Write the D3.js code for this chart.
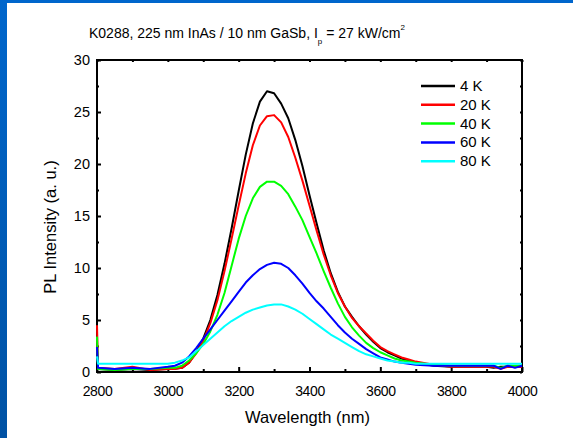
<!DOCTYPE html>
<html>
<head>
<meta charset="utf-8">
<script src="https://cdn.jsdelivr.net/npm/d3@7"></script>
<style>
  body { margin: 0; background: #fff; }
  svg text { font-family: Arial, "Liberation Sans", sans-serif; fill: #000; }
</style>
</head>
<body>
<svg id="chart"></svg>
<script>
// chart data
var wavelengths = [2800, 2803, 2850, 2900, 2950, 3000,
  3020, 3040, 3060, 3080, 3100, 3120, 3140, 3160, 3180, 3200,
  3220, 3240, 3260, 3280, 3300, 3320, 3340, 3360, 3380, 3400,
  3420, 3440, 3460, 3480, 3500, 3520, 3540, 3560, 3580, 3600,
  3620, 3640, 3660, 3680, 3700,
  3750, 3800, 3850, 3900, 3920, 3940, 3960, 3980, 4000];

var pl4K = [0.5, 0.3, 0.2, 0.3, 0.2, 0.3,
  0.3, 0.4, 0.9, 1.9, 3.2, 5.0, 7.4, 10.4, 13.8, 17.4,
  20.9, 23.9, 26.0, 27.0, 26.8, 25.8, 24.4, 22.3, 19.8, 17.0,
  14.3, 11.7, 9.5, 7.7, 6.3, 5.3, 4.4, 3.6, 2.9, 2.3,
  1.9, 1.6, 1.3, 1.1, 0.9,
  0.6, 0.5, 0.5, 0.5, 0.4, 0.5, 0.5, 0.5, 0.5];

var pl20K = [4.5, 0.4, 0.3, 0.5, 0.2, 0.3,
  0.3, 0.4, 0.9, 1.8, 3.0, 4.7, 6.9, 9.7, 12.8, 16.0,
  19.1, 21.8, 23.7, 24.6, 24.7, 24.0, 22.6, 20.6, 18.4, 16.0,
  13.6, 11.3, 9.3, 7.6, 6.3, 5.2, 4.4, 3.7, 3.0, 2.4,
  2.0, 1.7, 1.4, 1.2, 1.0,
  0.7, 0.5, 0.5, 0.5, 0.5, 0.3, 0.5, 0.5, 0.5];

var pl40K = [3.4, 0.3, 0.2, 0.3, 0.3, 0.4,
  0.4, 0.6, 1.1, 1.8, 2.7, 3.9, 5.5, 7.6, 10.2, 12.8,
  15.0, 16.7, 17.8, 18.3, 18.3, 17.9, 17.1, 15.9, 14.6, 13.0,
  11.4, 9.7, 8.1, 6.6, 5.3, 4.3, 3.5, 2.8, 2.3, 1.9,
  1.6, 1.3, 1.1, 1.0, 0.9,
  0.7, 0.6, 0.6, 0.6, 0.6, 0.4, 0.6, 0.6, 0.6];

var pl60K = [2.4, 0.4, 0.3, 0.4, 0.3, 0.5,
  0.6, 0.9, 1.5, 2.3, 3.2, 4.1, 5.0, 5.9, 6.8, 7.7,
  8.6, 9.3, 9.9, 10.3, 10.5, 10.4, 10.0, 9.3, 8.5, 7.6,
  6.8, 6.1, 5.3, 4.5, 3.8, 3.2, 2.7, 2.2, 1.8, 1.4,
  1.2, 1.0, 0.9, 0.8, 0.7,
  0.6, 0.6, 0.6, 0.6, 0.6, 0.3, 0.6, 0.4, 0.6];

var pl80K = [1.5, 0.8, 0.8, 0.8, 0.8, 0.8,
  0.9, 1.1, 1.4, 2.0, 2.6, 3.2, 3.8, 4.4, 4.9, 5.3,
  5.7, 6.0, 6.2, 6.4, 6.5, 6.5, 6.3, 6.0, 5.6, 5.1,
  4.6, 4.1, 3.6, 3.2, 2.8, 2.4, 2.0, 1.7, 1.5, 1.3,
  1.1, 1.0, 0.9, 0.9, 0.8,
  0.8, 0.8, 0.8, 0.8, 0.8, 0.8, 0.8, 0.8, 0.8];

var seriesNames = ["4 K", "20 K", "40 K", "60 K", "80 K"];
var seriesColors = ["#000000", "#ff0000", "#00ff00", "#0000ff", "#00ffff"];
var seriesValues = [pl4K, pl20K, pl40K, pl60K, pl80K];

var xTicks = [2800, 3000, 3200, 3400, 3600, 3800, 4000];
var xMinor = [2900, 3100, 3300, 3500, 3700, 3900];
var yTicks = [0, 5, 10, 15, 20, 25, 30];
var yMinor = [2.5, 7.5, 12.5, 17.5, 22.5, 27.5];

// page sizes
var width = 573, height = 438,
  margin = {top: 60, right: 51, bottom: 66, left: 97},
  plotW = width - margin.left - margin.right,
  plotH = height - margin.top - margin.bottom;

var svg = d3.select("#chart")
  .attr("width", width)
  .attr("height", height);

// blue slide border
var defs = svg.append("defs");
var grad = defs.append("linearGradient")
  .attr("id", "edge").attr("x1", 0).attr("y1", 0).attr("x2", 0).attr("y2", 1);
grad.append("stop").attr("offset", "0%").attr("stop-color", "#0066cc");
grad.append("stop").attr("offset", "100%").attr("stop-color", "#0052a4");
svg.append("rect").attr("x", 0).attr("y", 0).attr("width", width).attr("height", 3)
  .attr("fill", "#0066cc");
svg.append("rect").attr("x", 0).attr("y", 0).attr("width", 7).attr("height", height)
  .attr("fill", "url(#edge)");

defs.append("clipPath").attr("id", "plotClip")
  .append("rect").attr("x", -2).attr("y", -1).attr("width", plotW + 3).attr("height", plotH + 1);

var x = d3.scaleLinear().domain([2800, 4000]).range([0, plotW]),
    y = d3.scaleLinear().domain([0, 30]).range([plotH, 0]);

var g = svg.append("g")
  .attr("transform", "translate(" + margin.left + "," + margin.top + ")");

// axes, ticks pointing inwards
g.append("g")
  .attr("transform", "translate(0," + plotH + ")")
  .call(d3.axisBottom(x).tickValues(xTicks).tickSizeInner(-5).tickSizeOuter(0)
    .tickPadding(14).tickFormat(d3.format("d")))
  .call(function(a) {
    a.select(".domain").remove();
    a.selectAll("text").style("font-size", "14px").style("letter-spacing", "-0.4px");
  });
g.append("g")
  .attr("transform", "translate(0," + plotH + ")")
  .call(d3.axisBottom(x).tickValues(xMinor).tickSizeInner(-3).tickSizeOuter(0).tickFormat(""))
  .select(".domain").remove();
g.append("g")
  .call(d3.axisTop(x).tickValues(xTicks.concat(xMinor)).tickSizeInner(-2).tickSizeOuter(0).tickFormat(""))
  .select(".domain").remove();

g.append("g")
  .call(d3.axisLeft(y).tickValues(yTicks).tickSizeInner(-4).tickSizeOuter(0).tickPadding(7))
  .call(function(a) {
    a.select(".domain").remove();
    a.selectAll("text").style("font-size", "14.5px");
  });
g.append("g")
  .call(d3.axisLeft(y).tickValues(yMinor).tickSizeInner(-2).tickSizeOuter(0).tickFormat(""))
  .select(".domain").remove();
g.append("g")
  .attr("transform", "translate(" + plotW + ",0)")
  .call(d3.axisRight(y).tickValues(yTicks.concat(yMinor)).tickSizeInner(-2).tickSizeOuter(0).tickFormat(""))
  .select(".domain").remove();

g.selectAll(".tick line").attr("stroke-width", 2);

// frame
g.append("rect")
  .attr("width", plotW).attr("height", plotH)
  .attr("fill", "none").attr("stroke", "#000").attr("stroke-width", 2);

// spectra
var line = d3.line()
  .x(function(d) { return x(d[0]); })
  .y(function(d) { return y(d[1]); });

g.append("g").attr("clip-path", "url(#plotClip)")
  .selectAll(".spectrum")
    .data(seriesValues)
  .enter().append("path")
    .attr("class", "spectrum")
    .attr("fill", "none")
    .attr("stroke-width", 2)
    .attr("stroke-linejoin", "round")
    .attr("stroke", function(d, i) { return seriesColors[i]; })
    .attr("d", function(vals) {
      return line(wavelengths.map(function(w, j) { return [w, vals[j]]; }));
    });

// legend
var legend = g.append("g").attr("transform", "translate(324,26)");
legend.selectAll("line")
    .data(seriesNames)
  .enter().append("line")
    .attr("x1", 0).attr("x2", 34)
    .attr("y1", function(d, i) { return i * 18.8; })
    .attr("y2", function(d, i) { return i * 18.8; })
    .attr("stroke", function(d, i) { return seriesColors[i]; })
    .attr("stroke-width", 2.5);
legend.selectAll("text")
    .data(seriesNames)
  .enter().append("text")
    .attr("x", 39)
    .attr("y", function(d, i) { return i * 18.8 + 5; })
    .style("font-size", "15px")
    .text(function(d) { return d; });

// axis titles
svg.append("text")
  .attr("x", margin.left + plotW / 2 - 2)
  .attr("y", 423)
  .attr("text-anchor", "middle")
  .style("font-size", "16.5px")
  .text("Wavelength (nm)");

svg.append("text")
  .attr("transform", "translate(56,227) rotate(-90)")
  .attr("text-anchor", "middle")
  .style("font-size", "16.5px")
  .text("PL Intensity (a. u.)");

// title with sub- and superscript
var title = svg.append("text")
  .attr("x", 89).attr("y", 38)
  .style("font-size", "14px");
title.append("tspan").text("K0288, 225 nm InAs / 10 nm GaSb, I");
title.append("tspan").attr("dy", 6).style("font-size", "8px").text("p");
title.append("tspan").attr("dy", -6).text(" = 27 kW/cm");
title.append("tspan").attr("dy", -8).style("font-size", "8px").text("2");
</script>
</body>
</html>
